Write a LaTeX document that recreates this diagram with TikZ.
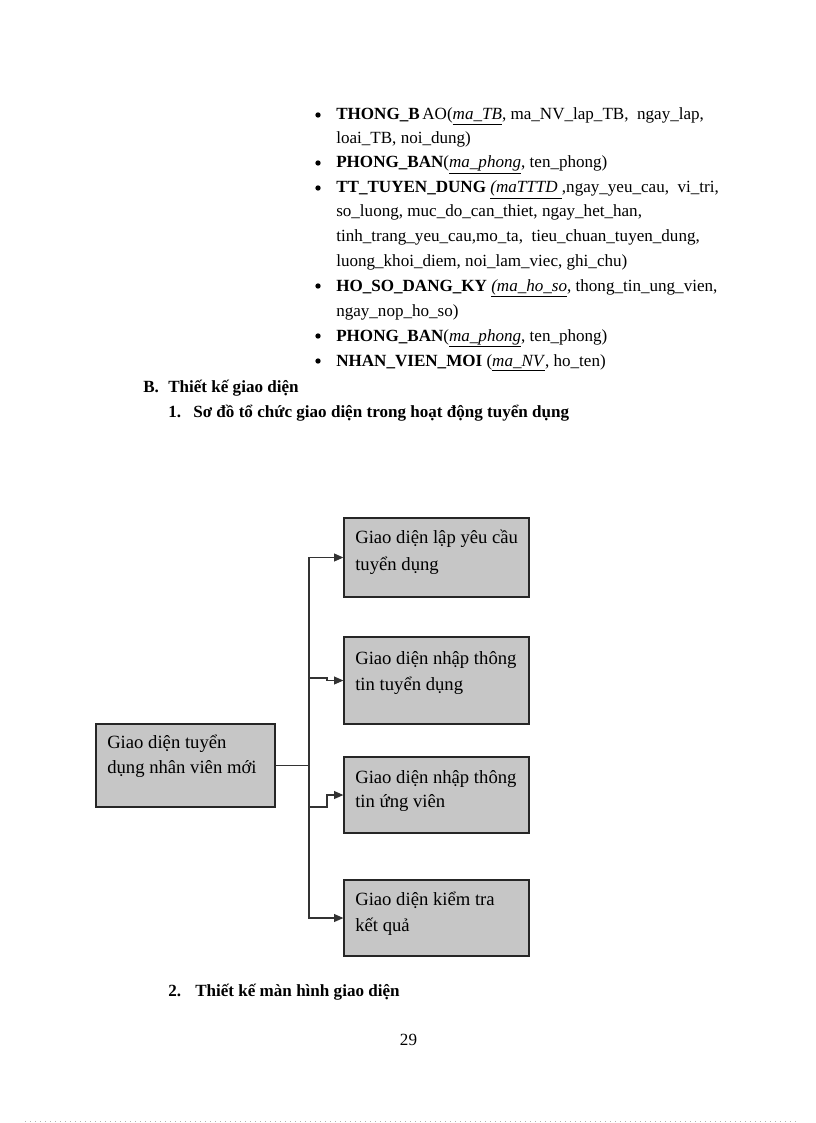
\documentclass[tikz,border=0pt]{standalone}
\usepackage{fontspec}
\setmainfont{Liberation Serif}
\usetikzlibrary{arrows.meta}
\begin{document}
\begin{tikzpicture}[x=0.75pt,y=-0.75pt,
  txt/.style={anchor=base west,inner sep=0pt,font=\fontsize{12.8}{15}\selectfont},
  btxt/.style={anchor=base west,inner sep=0pt,font=\fontsize{14}{17}\selectfont},
  bul/.style={circle,fill=black,inner sep=0pt,minimum size=4pt},
  gbox/.style={draw=black!85,line width=1pt,fill=gray!45,inner sep=0pt,minimum width=138.75pt},
  conn/.style={draw=black!80,line width=0.8pt},
  arr/.style={conn,-{Triangle[length=7pt,width=6pt]}}]
\useasboundingbox (0,0) rectangle (816,1123);
\fill[white] (0,0) rectangle (816,1123);
% list
\node[bul] (u1) at (318,115) {};
\node[txt] (l1) at (336,120) {\textbf{THONG\_B}\hspace{2pt}AO(\underline{\textit{ma\_TB}}, ma\_NV\_lap\_TB,\ \ ngay\_lap,};
\node[txt] (l2) at (336,144) {loai\_TB, noi\_dung)};
\node[bul] (u3) at (318,163) {};
\node[txt] (l3) at (336,168) {\textbf{PHONG\_BAN}(\underline{\textit{ma\_phong}}, ten\_phong)};
\node[bul] (u4) at (318,188) {};
\node[txt] (l4) at (336,193) {\textbf{TT\_TUYEN\_DUNG} \underline{\textit{(maTTTD\ }},ngay\_yeu\_cau,\ \ vi\_tri,};
\node[txt] (l5) at (336,217) {so\_luong, muc\_do\_can\_thiet, ngay\_het\_han,};
\node[txt] (l6) at (336,242) {tinh\_trang\_yeu\_cau,mo\_ta,\ \ tieu\_chuan\_tuyen\_dung,};
\node[txt] (l7) at (336,266) {luong\_khoi\_diem, noi\_lam\_viec, ghi\_chu)};
\node[bul] (u8) at (318,286) {};
\node[txt] (l8) at (336,291) {\textbf{HO\_SO\_DANG\_KY} \underline{\textit{(ma\_ho\_so}}, thong\_tin\_ung\_vien,};
\node[txt] (l9) at (336,316) {ngay\_nop\_ho\_so)};
\node[bul] (u10) at (318,336) {};
\node[txt] (l10) at (336,341) {\textbf{PHONG\_BAN}(\underline{\textit{ma\_phong}}, ten\_phong)};
\node[bul] (u11) at (318,361) {};
\node[txt] (l11) at (336,366) {\textbf{NHAN\_VIEN\_MOI} (\underline{\textit{ma\_NV}}, ho\_ten)};
% headings
\node[txt] (hB) at (143,392) {\textbf{B.}};
\node[txt] (hBt) at (168,392) {\textbf{Thiết kế giao diện}};
\node[txt] (h1) at (168,417) {\textbf{1.}};
\node[txt] (h1t) at (193,417) {\textbf{Sơ đồ tổ chức giao diện trong hoạt động tuyển dụng}};
\node[txt] (h2) at (168,996) {\textbf{2.}};
\node[txt] (h2t) at (195,996) {\textbf{Thiết kế màn hình giao diện}};
\node[txt,anchor=base] (pg) at (408.5,1045) {29};
% boxes
\node[gbox,minimum width=134.25pt,minimum height=62.25pt] (m) at (185.5,765.5) {};
\node[gbox,minimum height=59.25pt] (b1) at (436.5,557.5) {};
\node[gbox,minimum height=65.25pt] (b2) at (436.5,680.5) {};
\node[gbox,minimum height=57pt] (b3) at (436.5,795) {};
\node[gbox,minimum height=57pt] (b4) at (436.5,918) {};
\node[btxt] (mt1) at (107,748) {Giao diện tuyển};
\node[btxt] (mt2) at (107,773) {dụng nhân viên mới};
\node[btxt] (b1t1) at (355,543) {Giao diện lập yêu cầu};
\node[btxt] (b1t2) at (355,570) {tuyển dụng};
\node[btxt] (b2t1) at (355,664) {Giao diện nhập thông};
\node[btxt] (b2t2) at (355,690) {tin tuyển dụng};
\node[btxt] (b3t1) at (355,783) {Giao diện nhập thông};
\node[btxt] (b3t2) at (355,807) {tin ứng viên};
\node[btxt] (b4t1) at (355,905) {Giao diện kiểm tra};
\node[btxt] (b4t2) at (355,931) {kết quả};
% connectors
\coordinate (J) at (309,765.5);
\coordinate (j2a) at (309,678);
\coordinate (j2b) at (327,678);
\coordinate (j3a) at (309,807);
\coordinate (j3b) at (327,807);
\draw[conn] (m.east) -- (J);
\draw[arr] (J) |- (b1.west);
\draw[arr] (J) |- (b4.west);
\draw[arr] (j2a) -- (j2b) |- (b2.west);
\draw[arr] (j3a) -- (j3b) |- (b3.west);
% footer dotted line
\coordinate (d1) at (25,1121.5);
\coordinate (d2) at (797,1121.5);
\draw[black!30,line width=1pt,dash pattern=on 0.75pt off 3pt] (d1) -- (d2);
\end{tikzpicture}
\end{document}
